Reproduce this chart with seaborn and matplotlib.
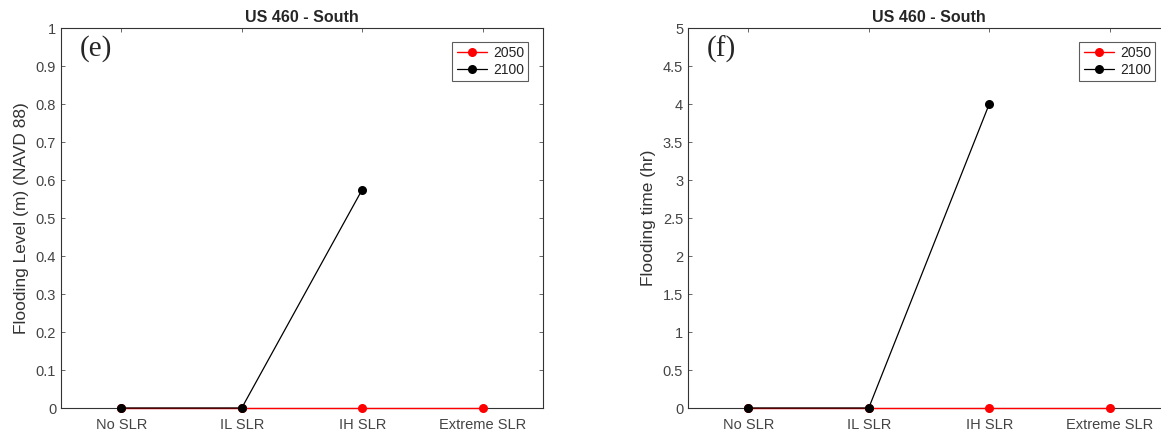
import numpy as np
import pandas as pd
import matplotlib
matplotlib.use("Agg")
import matplotlib.pyplot as plt
import seaborn as sns

categories = ["No SLR", "IL SLR", "IH SLR", "Extreme SLR"]
level_2050 = [0, 0, 0, 0]
level_2100 = [0, 0, 0.575, np.nan]
time_2050 = [0, 0, 0, 0]
time_2100 = [0, 0, 4, np.nan]
title = "US 460 - South"

sns.set_style("ticks")
plt.rcParams["font.family"] = ["Liberation Sans", "DejaVu Sans"]

fig = plt.figure(figsize=(11.61, 4.36), dpi=100)
ax1 = fig.add_axes([61/1161, 28/436, 482/1161, 380/436])
ax2 = fig.add_axes([688/1161, 28/436, 482/1161, 380/436])

tick_color = "#4d4d4d"

def draw(ax, v2050, v2100, ylabel, ylim, yticks, letter):
    df = pd.DataFrame({"cat": categories, "2050": v2050, "2100": v2100})
    sns.lineplot(data=df, x="cat", y="2050", ax=ax, color="#ff0000", marker="o",
                 markersize=6.5, markeredgewidth=0, linewidth=1.0, label="2050",
                 sort=False, clip_on=False, zorder=4)
    sns.lineplot(data=df.dropna(), x="cat", y="2100", ax=ax, color="black", marker="o",
                 markersize=6.5, markeredgewidth=0, linewidth=0.9, label="2100",
                 sort=False, clip_on=False, zorder=5)
    ax.set_xlim(-0.5, 3.5)
    ax.set_ylim(*ylim)
    ax.set_yticks(yticks)
    ax.set_yticklabels([("%g" % t) for t in yticks])
    ax.set_xlabel("")
    ax.set_ylabel(ylabel, fontsize=12.5, color="#333333", labelpad=5)
    ax.set_title(title, fontsize=11.5, fontweight="bold", pad=4)
    ax.tick_params(direction="in", top=True, right=True, length=3, width=0.6,
                   labelsize=10.5, colors=tick_color, labelcolor="#444444")
    ax.tick_params(axis="x", pad=7)
    for s in ax.spines.values():
        s.set_linewidth(0.8)
        s.set_color("#333333")
        s.set_visible(True)
    ax.text(0.038, 0.945, letter, transform=ax.transAxes, fontsize=21,
            family="Liberation Serif", va="center", ha="left")
    leg = ax.legend(loc="upper right", bbox_to_anchor=(0.969, 0.963), fontsize=10,
                    frameon=True, fancybox=False, handlelength=2.2, borderpad=0.3,
                    labelspacing=0.2, handletextpad=0.4, borderaxespad=0)
    leg.get_frame().set_edgecolor("#333333")
    leg.get_frame().set_linewidth(0.8)
    for t in leg.get_texts():
        t.set_color("#222222")

draw(ax1, level_2050, level_2100, "Flooding Level (m) (NAVD 88)", (0, 1),
     [0, 0.1, 0.2, 0.3, 0.4, 0.5, 0.6, 0.7, 0.8, 0.9, 1], "(e)")
draw(ax2, time_2050, time_2100, "Flooding time (hr)", (0, 5),
     [0, 0.5, 1, 1.5, 2, 2.5, 3, 3.5, 4, 4.5, 5], "(f)")

fig.savefig("out.png", dpi=100)
